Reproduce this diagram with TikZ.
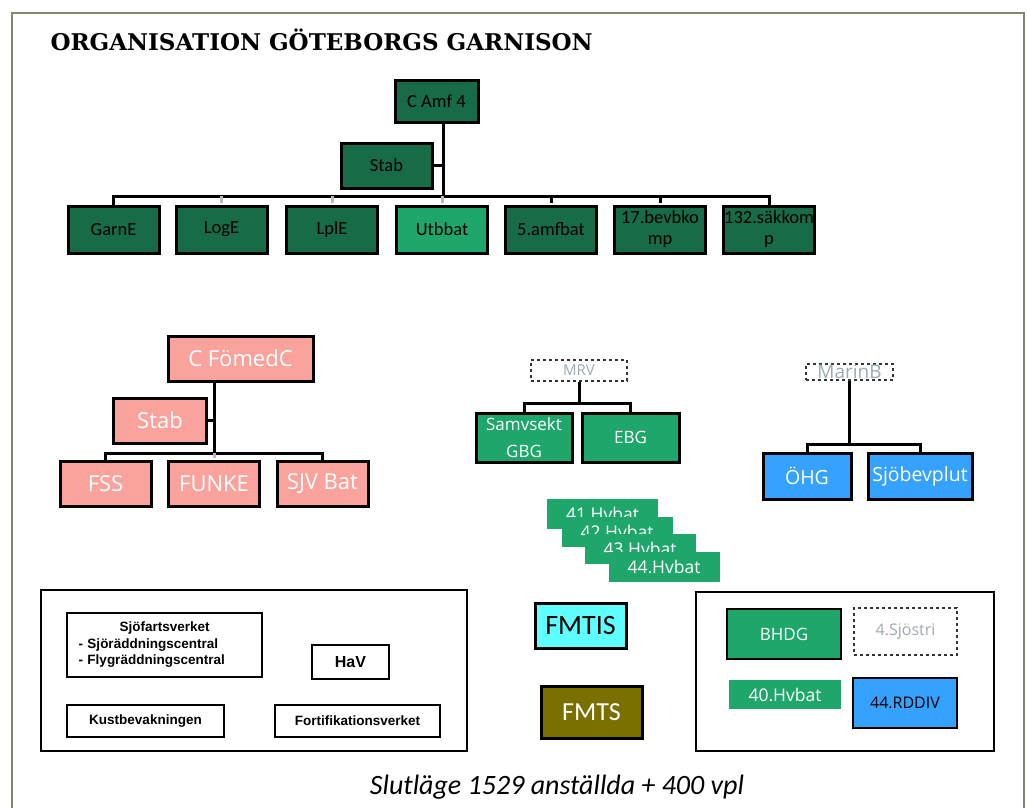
\documentclass[tikz,border=0pt]{standalone}
\usepackage{fontspec}
\newfontfamily\boxfont{Carlito}
\newfontfamily\unitfont{Open Sans}
\newfontfamily\armfont{Liberation Sans}
\newfontfamily\titlefont{DejaVu Serif}
\definecolor{amfgreen}{RGB}{23,107,71}
\definecolor{hvgreen}{RGB}{31,166,106}
\definecolor{medpink}{RGB}{249,163,156}
\definecolor{navblue}{RGB}{54,162,255}
\definecolor{tiscyan}{RGB}{95,255,255}
\definecolor{tsolive}{RGB}{122,112,0}
\definecolor{offgrey}{RGB}{155,170,179}
\definecolor{framegrey}{RGB}{126,138,112}
\tikzset{
  unit/.style={draw=black, line width=3pt, fill=#1, align=center, inner sep=0pt},
  flat/.style={fill=#1, align=center, inner sep=0pt},
  agency/.style={draw=black, line width=1.5pt, align=center, inner sep=0pt, font=\armfont\bfseries\fontsize{13.5}{16.5}\selectfont},
  vacant/.style={draw=black!80, dashed, line width=1.5pt, text=offgrey, inner sep=0pt},
  sz/.style 2 args={minimum width=#1pt, minimum height=#2pt},
  link/.style={line width=3pt},
}
\begin{document}
\begin{tikzpicture}[x=1pt, y=-1pt]
\useasboundingbox (0,0) rectangle (1027,808);
\draw[framegrey, line width=2.5pt] (12,808) -- (12,13) -- (1024,13) -- (1024,808);
\node[anchor=base west, font=\titlefont\bfseries\fontsize{23}{23}\selectfont] (title) at (47,51) {ORGANISATION GÖTEBORGS GARNISON};

% Amf 4
\begin{scope}[font=\boxfont\fontsize{18.5}{21}\selectfont]
\node[unit=amfgreen, sz={83}{42}] (camf) at (436.5,101) {C Amf 4};
\node[unit=amfgreen, sz={91}{45}] (stab1) at (386.5,165.5) {Stab};
\foreach \name/\x/\col/\txt in {garne/113.5/amfgreen/GarnE, loge/221.5/amfgreen/LogE, lple/332/amfgreen/LplE,
    utb/442/hvgreen/Utbbat, amf5/551/amfgreen/5.amfbat, bev17/660/amfgreen/{17.bevbko\\mp}, sak132/769/amfgreen/{132.säkkom\\p}}
  \node[unit=\col, sz={91}{47}] (\name) at (\x,229.5) {\txt};
\end{scope}
\coordinate (trunk) at (443,196);
\draw[link] (camf.south -| trunk) -- (trunk);
\draw[link] (stab1.east) -- (stab1.east -| trunk);
\draw[link] (garne.north) |- (trunk) -| (sak132.north);
\foreach \name/\col in {loge/gray!55, lple/gray!55, utb/gray!55, amf5/black, bev17/black}
  \draw[link, \col, shorten >=1.5pt] (\name.north |- trunk) -- (\name.north);

% FomedC
\begin{scope}[font=\unitfont\fontsize{22}{24}\selectfont, text=white]
\node[unit=medpink, sz={145}{45}] (fomed) at (240.5,358.5) {C FömedC};
\node[unit=medpink, sz={93}{45}] (stab2) at (160,420.5) {Stab};
\foreach \name/\x/\txt in {fss/105.5/FSS, funke/214/FUNKE, sjv/322.5/SJV Bat}
  \node[unit=medpink, sz={91}{45}] (\name) at (\x,483.5) {\txt};
\end{scope}
\coordinate (ptrunk) at (214,453);
\draw[link] (fomed.south -| ptrunk) -- (ptrunk);
\draw[link] (stab2.east) -- (stab2.east -| ptrunk);
\draw[link] (fss.north) |- (ptrunk) -| (sjv.north);
\draw[link, gray!55, shorten >=1.5pt] (ptrunk) -- (funke.north);

% MRV
\node[vacant, sz={96}{21}, font=\unitfont\fontsize{15}{17}\selectfont] (mrv) at (579,370.5) {MRV};
\node[unit=hvgreen, sz={96}{49}, text=white, font=\unitfont\fontsize{17}{27}\selectfont] (samv) at (524,437.5) {Samvsekt\\GBG};
\node[unit=hvgreen, sz={97}{49}, text=white, font=\unitfont\fontsize{17}{20}\selectfont] (ebg) at (630.5,437.5) {EBG};
\coordinate (mtrunk) at (579,403);
\draw[link] (mrv.south) -- (mtrunk);
\draw[link] (samv.north) |- (mtrunk) -| (ebg.north);

% MarinB
\node[vacant, sz={87}{16}, font=\unitfont\fontsize{19}{19}\selectfont] (marinb) at (849.5,372) {MarinB};
\begin{scope}[font=\unitfont\fontsize{19.5}{22}\selectfont, text=white]
\node[unit=navblue, sz={88}{46}] (ohg) at (807,476) {ÖHG};
\node[unit=navblue, sz={104}{46}] (sjob) at (920,476) {Sjöbevplut};
\end{scope}
\coordinate (btrunk) at (849.5,444);
\draw[link] (marinb.south) -- (btrunk);
\draw[link] (ohg.north) |- (btrunk) -| (sjob.north);

% Hvbat
\foreach \n/\x/\y in {41/602.5/514, 42/617/532, 43/640/549, 44/664/567}
  \node[flat=hvgreen, sz={111}{30}, text=white, font=\unitfont\fontsize{17.5}{20}\selectfont] (hv\n) at (\x,\y) {\n.Hvbat};

% civila myndigheter
\draw[line width=1.5pt] (41,590) rectangle (467,751);
\node[agency, sz={195}{64}, text width=172pt, align=left] (sjofart) at (164.5,645) {\hspace*{41pt}Sjöfartsverket\\- Sjöräddningscentral\\- Flygräddningscentral};
\node[agency, sz={77}{34}, font=\armfont\bfseries\fontsize{16}{18}\selectfont] (hav) at (350.5,662) {HaV};
\node[agency, sz={157}{32}] (kust) at (145.5,721) {Kustbevakningen};
\node[agency, sz={165}{32}] (fort) at (357.5,721) {Fortifikationsverket};

% FMV
\node[unit=tiscyan, sz={91}{45}, font=\boxfont\fontsize{28}{30}\selectfont] (fmtis) at (580.5,625.5) {FMTIS};
\node[unit=tsolive, sz={101}{52}, text=white, font=\boxfont\fontsize{26}{28}\selectfont] (fmts) at (591.5,712) {FMTS};

% marin
\draw[line width=1.5pt] (696,592) rectangle (994,751);
\begin{scope}[font=\unitfont\fontsize{17}{20}\selectfont]
\node[unit=hvgreen, line width=1.5pt, sz={114}{50}, text=white] (bhdg) at (784,634) {BHDG};
\node[vacant, sz={103}{47}, font=\unitfont\fontsize{16}{18}\selectfont] (sjostri) at (905.5,631.5) {4.Sjöstri};
\node[flat=hvgreen, sz={112}{29}, text=white, font=\unitfont\fontsize{17.5}{20}\selectfont] (hv40) at (785,694.5) {40.Hvbat};
\node[unit=navblue, line width=1.5pt, sz={104}{50}, font=\unitfont\fontsize{16}{18}\selectfont] (rddiv) at (905,703) {44.RDDIV};
\end{scope}

\node[font=\boxfont\itshape\fontsize{28}{30}\selectfont] (slut) at (557,787) {Slutläge 1529 anställda + 400 vpl};
\end{tikzpicture}
\end{document}
